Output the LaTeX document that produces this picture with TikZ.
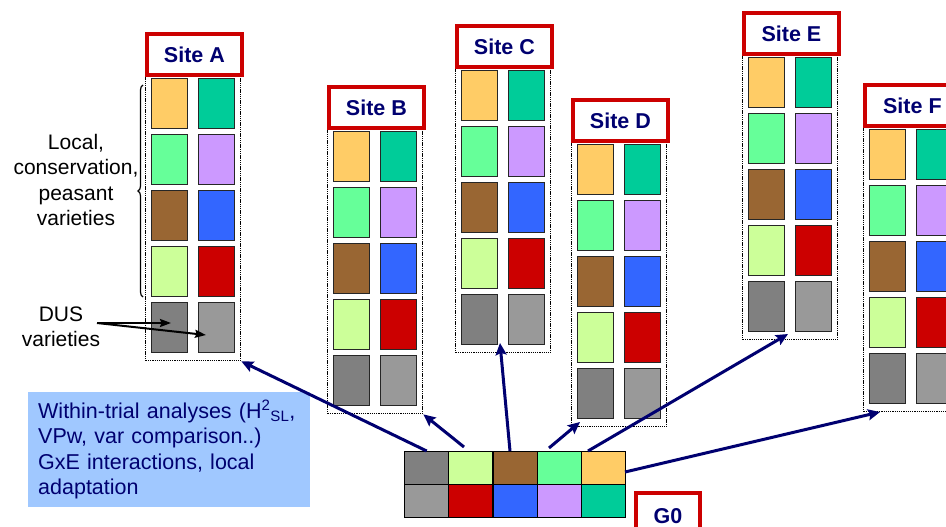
\documentclass[tikz,border=0pt]{standalone}
\usepackage{fontspec}
\setmainfont{Liberation Sans}
\usetikzlibrary{arrows.meta,decorations.pathreplacing,calc}
\definecolor{corange}{HTML}{FFCC66}
\definecolor{cteal}{HTML}{00CC99}
\definecolor{cmint}{HTML}{66FF99}
\definecolor{clav}{HTML}{CC99FF}
\definecolor{cbrown}{HTML}{996633}
\definecolor{cblue}{HTML}{3366FF}
\definecolor{clgreen}{HTML}{CCFF99}
\definecolor{cred}{HTML}{CC0000}
\definecolor{cdgrey}{HTML}{808080}
\definecolor{cgrey}{HTML}{999999}
\definecolor{navy}{HTML}{000070}
\definecolor{notebg}{HTML}{A0C8FF}
\newcommand\drawsite[4]{%
  \node[sitebox, anchor=north west] (#1box) at (#3,#4+41) {};
  \foreach \colL/\colR [count=\i from 0] in {corange/cteal, cmint/clav, cbrown/cblue, clgreen/cred, cdgrey/cgrey}{
    \node[cell, fill=\colL, anchor=north west] (#1-\i-l) at (#3+6,#4+46+56*\i) {};
    \node[cell, fill=\colR, anchor=north west] (#1-\i-r) at (#3+53,#4+46+56*\i) {};
  }
  \node[sitelabel, anchor=north west] (#1lab) at (#3,#4) {Site #2};
}
\begin{document}
\begin{tikzpicture}[x=1pt,y=-1pt,
  cell/.style={draw=black!85, line width=1.4pt, minimum width=36pt, minimum height=50pt, inner sep=0pt},
  gcell/.style={draw=black, line width=1.2pt, minimum width=44.2pt, minimum height=33pt, inner sep=0pt},
  sitebox/.style={draw=black, line width=1.4pt, dash pattern=on 1.3pt off 0.9pt, minimum width=95pt, minimum height=287pt, inner sep=0pt},
  sitelabel/.style={draw=cred, line width=3.8pt, fill=white, minimum width=95pt, minimum height=41pt, inner sep=0pt, text=navy, font=\fontsize{21.5}{25}\selectfont\bfseries},
  arr/.style={draw=navy, line width=3pt, -{Stealth[length=12pt,width=11pt,inset=2pt]}},
  darr/.style={draw=black, line width=2pt, -{Stealth[length=11pt,width=8pt,inset=1.5pt]}},
  txt/.style={font=\fontsize{21}{25.5}\selectfont, align=center, inner sep=0pt}
]
\clip (0,0) rectangle (946,527);
\fill[white] (0,0) rectangle (946,527);

\drawsite{A}{A}{145}{32}
\drawsite{B}{B}{327}{85}
\drawsite{C}{C}{455}{24}
\drawsite{D}{D}{571}{98}
\drawsite{E}{E}{742}{11}
\drawsite{F}{F}{863}{83}

% G0 grid
\foreach \ct/\cb [count=\j] in {cdgrey/cgrey, clgreen/cred, cbrown/cblue, cmint/clav, corange/cteal}{
  \node[gcell, fill=\ct, anchor=north west] (g-1-\j) at (404+44.2*\j-44.2,451) {};
  \node[gcell, fill=\cb, anchor=north west] (g-2-\j) at (404+44.2*\j-44.2,484) {};
}
\node[sitelabel, minimum width=64pt, minimum height=46pt, anchor=north west] (G0lab) at (634,491) {G0};

% note box
\node[fill=notebg, anchor=north west, minimum width=282pt, minimum height=115pt, text width=262pt, inner xsep=10pt, inner ysep=0pt, align=left, text=navy, font=\fontsize{21.5}{25.5}\selectfont] (note) at (28,392)
  {Within-trial analyses (H\textsuperscript{2}\textsubscript{SL},\\VPw, var comparison..)\\GxE interactions, local\\adaptation};

% left texts
\node[txt] (local) at (76,180) {Local,\\conservation,\\peasant\\varieties};
\node[txt] (dus) at (61,327) {DUS\\varieties};
\draw[decorate, decoration={brace, amplitude=5pt}, line width=1.2pt] (143,297) -- (143,85) coordinate (bracetop);

% DUS arrows
\coordinate (dusS) at (97,323);
\coordinate (dusT1) at (171,323);
\coordinate (dusT2) at (206,335);
\draw[darr] (dusS) -- (dusT1);
\draw[darr] (dusS) -- (dusT2);

% connectors from G0
\coordinate (sB) at (464,447);
\coordinate (sC) at (510,451);
\coordinate (sD) at (549,448);
\coordinate (sE) at (588,451);
\coordinate (sF) at (625,472);
\coordinate (tC) at (500,343);
\coordinate (tD) at (580,422);
\coordinate (tE) at (788,334);
\coordinate (tF) at (880,412);
\draw[arr] (g-1-1.north) -- (Abox.south east);
\draw[arr] (sB) -- (Bbox.south east);
\draw[arr] (sC) -- (tC);
\draw[arr] (sD) -- (tD);
\draw[arr] (sE) -- (tE);
\draw[arr] (sF) -- (tF);
\end{tikzpicture}
\end{document}
